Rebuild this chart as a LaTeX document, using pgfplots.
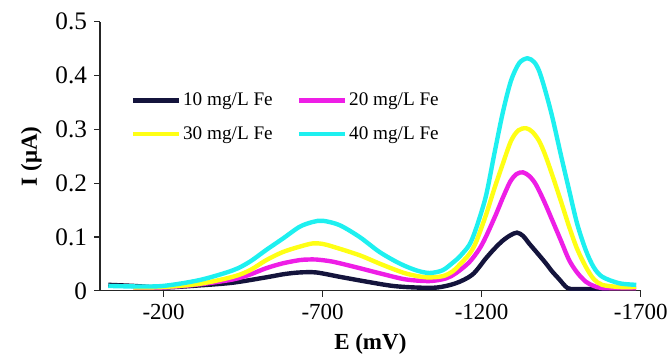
\documentclass[border=0pt]{standalone}
\usepackage{fontspec}
\setmainfont{Liberation Serif}
\usepackage{pgfplots}
\pgfplotsset{compat=1.18}
\definecolor{c10}{HTML}{14143C}
\definecolor{c20}{HTML}{EE1EE6}
\definecolor{c30}{HTML}{FFFF14}
\definecolor{c40}{HTML}{1EF0F0}
\begin{document}
\begin{tikzpicture}
\begin{axis}[
  scale only axis, width=270.3pt, height=134.5pt,
  xmin=-1700, xmax=0, ymin=0, ymax=0.5, x dir=reverse,
  axis x line=bottom, axis y line=left,
  axis line style={-, line width=0.6pt, black!85},
  xtick={-200,-700,-1200,-1700}, xticklabels={-200,-700,-1200,-1700},
  ytick={0,0.1,0.2,0.3,0.4,0.5}, yticklabels={0,0.1,0.2,0.3,0.4,0.5},
  tick align=outside, major tick length=3pt,
  tick style={black!85, line width=0.6pt},
  xticklabel style={font=\fontsize{11.5}{13}\selectfont},
  yticklabel style={font=\fontsize{12.6}{14}\selectfont},
  xlabel={E (mV)}, ylabel={I (μA)},
  label style={font=\fontsize{11.5}{13}\selectfont\bfseries},
  legend columns=2,
  legend style={draw=none, fill=none, at={(0.045,0.768)}, anchor=north west,
    font=\fontsize{9.6}{12}\selectfont, row sep=5pt,
    nodes={inner xsep=1pt},
    /tikz/every even column/.append style={column sep=11pt}},
  legend image code/.code={\draw[#1] (0pt,0pt) -- (23pt,0pt);},
  every axis plot/.append style={line width=2.2pt, smooth, tension=0.5},
]
\addplot[c10] coordinates {
(-26,0.011) (-105,0.009) (-199,0.006) (-314,0.010) (-418,0.015) (-523,0.025)
(-580,0.031) (-628,0.034) (-680,0.034) (-753,0.026) (-837,0.017) (-920,0.009)
(-994,0.006) (-1060,0.006) (-1119,0.014) (-1171,0.030) (-1213,0.060) (-1240,0.078)
(-1266,0.093) (-1290,0.103) (-1311,0.108) (-1330,0.102) (-1349,0.088) (-1375,0.070)
(-1402,0.051) (-1420,0.037) (-1443,0.022) (-1470,0.005) (-1500,0.003) (-1600,0.003)
};
\addlegendentry{10 mg/L Fe}
\addplot[c20] coordinates {
(-105,0.006) (-199,0.006) (-314,0.012) (-418,0.021) (-471,0.030) (-523,0.042)
(-575,0.051) (-628,0.057) (-655,0.058) (-680,0.058) (-732,0.054) (-816,0.042)
(-889,0.031) (-962,0.021) (-1036,0.018) (-1088,0.023) (-1120,0.033) (-1161,0.053)
(-1192,0.077) (-1213,0.100) (-1245,0.142) (-1266,0.172) (-1290,0.203) (-1310,0.217)
(-1330,0.220) (-1350,0.213) (-1370,0.198) (-1395,0.168) (-1422,0.131) (-1450,0.092)
(-1475,0.057) (-1500,0.034) (-1527,0.017) (-1552,0.009) (-1579,0.005) (-1632,0.005)
(-1686,0.005)
};
\addlegendentry{20 mg/L Fe}
\addplot[c30] coordinates {
(-105,0.006) (-199,0.007) (-314,0.013) (-418,0.026) (-471,0.038) (-523,0.057)
(-575,0.072) (-628,0.082) (-669,0.088) (-700,0.087) (-732,0.082) (-816,0.066)
(-889,0.048) (-962,0.032) (-1025,0.025) (-1077,0.027) (-1109,0.036) (-1130,0.048)
(-1161,0.068) (-1182,0.090) (-1213,0.140) (-1240,0.190) (-1266,0.235) (-1292,0.278)
(-1315,0.298) (-1340,0.302) (-1360,0.295) (-1381,0.278) (-1400,0.252) (-1422,0.215)
(-1450,0.165) (-1475,0.119) (-1500,0.078) (-1527,0.045) (-1552,0.022) (-1579,0.011)
(-1632,0.007) (-1686,0.007)
};
\addlegendentry{30 mg/L Fe}
\addplot[c40] coordinates {
(-26,0.009) (-105,0.008) (-199,0.009) (-314,0.020) (-418,0.038) (-471,0.054)
(-523,0.076) (-575,0.097) (-628,0.119) (-670,0.128) (-701,0.130) (-753,0.122)
(-816,0.100) (-879,0.072) (-941,0.051) (-994,0.038) (-1036,0.033) (-1077,0.038)
(-1109,0.052) (-1130,0.063) (-1161,0.085) (-1182,0.115) (-1213,0.175) (-1240,0.255)
(-1266,0.330) (-1292,0.390) (-1318,0.423) (-1344,0.432) (-1365,0.425) (-1381,0.408)
(-1400,0.372) (-1422,0.323) (-1450,0.250) (-1475,0.187) (-1500,0.125) (-1527,0.076)
(-1552,0.044) (-1579,0.026) (-1632,0.014) (-1686,0.011)
};
\addlegendentry{40 mg/L Fe}
\end{axis}
\pgfresetboundingbox
\path[use as bounding box] ([shift={(-50pt,-34.65pt)}]current axis.south west) rectangle ([shift={(14.65pt,10.85pt)}]current axis.north east);
\end{tikzpicture}
\end{document}
